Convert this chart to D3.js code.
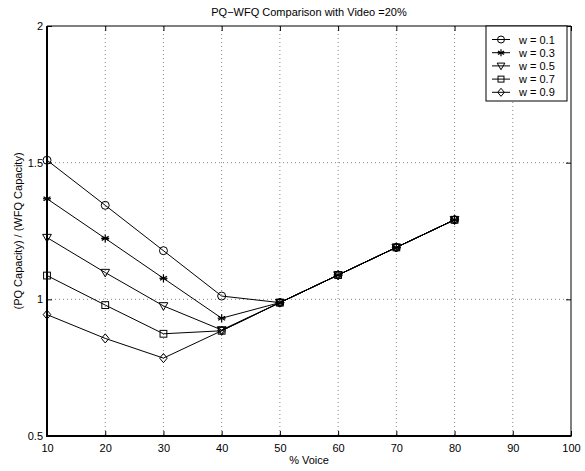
<!DOCTYPE html>
<html><head><meta charset="utf-8">
<script src="https://cdn.jsdelivr.net/npm/d3@7"></script>
<style>body{margin:0;background:#fff}svg{display:block}text{font-family:"Liberation Sans",Arial,sans-serif;fill:#000}</style>
</head><body><svg id="c" width="585" height="471"></svg>
<script>
const voice = [10, 20, 30, 40, 50, 60, 70, 80];
const seriesNames = ["w = 0.1", "w = 0.3", "w = 0.5", "w = 0.7", "w = 0.9"];
const w01 = [1.509, 1.344, 1.178, 1.012, 0.988, 1.089, 1.190, 1.291];
const w03 = [1.368, 1.223, 1.077, 0.931, 0.988, 1.089, 1.190, 1.291];
const w05 = [1.226, 1.098, 0.976, 0.888, 0.988, 1.089, 1.190, 1.291];
const w07 = [1.087, 0.979, 0.874, 0.885, 0.988, 1.089, 1.190, 1.291];
const w09 = [0.944, 0.857, 0.785, 0.885, 0.988, 1.089, 1.190, 1.291];
const seriesValues = [w01, w03, w05, w07, w09];
const markerTypes = ["circle", "asterisk", "triangle", "square", "diamond"];
const xTicks = [10, 20, 30, 40, 50, 60, 70, 80, 90, 100];
const yTicks = [0.5, 1, 1.5, 2];

const L = 47, R = 571, T = 26, B = 436;
const svg = d3.select("#c");
const x = d3.scaleLinear().domain([10, 100]).range([L, R]);
const y = d3.scaleLinear().domain([0.5, 2]).range([B, T]);

// grid
const g = svg.append("g");
g.selectAll(".gx").data(xTicks.slice(1, -1)).join("line")
  .attr("x1", d => x(d)).attr("x2", d => x(d)).attr("y1", T).attr("y2", B)
  .attr("stroke", "#888").attr("stroke-width", 1).attr("stroke-dasharray", "1,3");
g.selectAll(".gy").data(yTicks.slice(1, -1)).join("line")
  .attr("y1", d => y(d)).attr("y2", d => y(d)).attr("x1", L).attr("x2", R)
  .attr("stroke", "#888").attr("stroke-width", 1).attr("stroke-dasharray", "1,3");

// axes
const xb = svg.append("g").attr("transform", `translate(0,${B})`)
  .call(d3.axisBottom(x).tickValues(xTicks).tickSize(-5).tickPadding(8).tickFormat(d3.format("d")));
const xt = svg.append("g").attr("transform", `translate(0,${T})`)
  .call(d3.axisTop(x).tickValues(xTicks).tickSize(-5).tickFormat(""));
const yl = svg.append("g").attr("transform", `translate(${L},0)`)
  .call(d3.axisLeft(y).tickValues(yTicks).tickSize(-5).tickPadding(4).tickFormat(d => String(d)));
const yr = svg.append("g").attr("transform", `translate(${R},0)`)
  .call(d3.axisRight(y).tickValues(yTicks).tickSize(-5).tickFormat(""));
[xb, xt, yl, yr].forEach(a => {
  a.select(".domain").remove();
  a.selectAll("line").attr("stroke", "#000");
  a.selectAll("text").attr("font-size", 11).attr("font-family", "Liberation Sans, Arial, sans-serif").attr("fill", "#000");
});
svg.append("line").attr("x1", L).attr("x2", R).attr("y1", T).attr("y2", T).attr("stroke", "#000").attr("stroke-width", 1);
svg.append("line").attr("x1", R).attr("x2", R).attr("y1", T).attr("y2", B).attr("stroke", "#000").attr("stroke-width", 1);
svg.append("line").attr("x1", L).attr("x2", L).attr("y1", T).attr("y2", B + 1).attr("stroke", "#000").attr("stroke-width", 2);
svg.append("line").attr("x1", L - 1).attr("x2", R + 0.5).attr("y1", B).attr("y2", B).attr("stroke", "#000").attr("stroke-width", 2);

// marker drawing
function marker(sel, type, cx, cy, s) {
  s = s || 4;
  if (type === "circle") {
    sel.append("circle").attr("cx", cx).attr("cy", cy).attr("r", s).attr("fill", "none").attr("stroke", "#000");
  } else if (type === "asterisk") {
    const p = [[0, -s], [0, s], [-s*0.87, -s*0.5], [s*0.87, s*0.5], [-s*0.87, s*0.5], [s*0.87, -s*0.5], [-s, 0], [s, 0]];
    for (let i = 0; i < p.length; i += 2)
      sel.append("line").attr("x1", cx + p[i][0]).attr("y1", cy + p[i][1]).attr("x2", cx + p[i+1][0]).attr("y2", cy + p[i+1][1]).attr("stroke", "#000").attr("stroke-width", 1.2);
  } else if (type === "triangle") {
    sel.append("path").attr("d", `M${cx - s*1.1},${cy - s*0.8}L${cx + s*1.1},${cy - s*0.8}L${cx},${cy + s*1.1}Z`).attr("fill", "none").attr("stroke", "#000");
  } else if (type === "square") {
    sel.append("rect").attr("x", cx - s*0.85).attr("y", cy - s*0.85).attr("width", s*1.7).attr("height", s*1.7).attr("fill", "none").attr("stroke", "#000");
  } else if (type === "diamond") {
    sel.append("path").attr("d", `M${cx},${cy - s*1.15}L${cx + s*0.95},${cy}L${cx},${cy + s*1.15}L${cx - s*0.95},${cy}Z`).attr("fill", "none").attr("stroke", "#000");
  }
}

const line = d3.line().x((d, i) => x(voice[i])).y(d => y(d));
seriesValues.forEach((vals, k) => {
  const sg = svg.append("g");
  sg.append("path").datum(vals).attr("d", line).attr("fill", "none").attr("stroke", "#000").attr("stroke-width", 1);
  vals.forEach((v, i) => marker(sg, markerTypes[k], x(voice[i]), y(v)));
});

// title & labels
svg.append("text").attr("x", (L + R) / 2).attr("y", 16).attr("text-anchor", "middle").attr("font-size", 11).text("PQ\u2212WFQ Comparison with Video =20%");
svg.append("text").attr("x", (L + R) / 2).attr("y", 464).attr("text-anchor", "middle").attr("font-size", 11).text("% Voice");
svg.append("text").attr("transform", `translate(22,${(T + B) / 2}) rotate(-90)`).attr("text-anchor", "middle").attr("font-size", 11).text("(PQ Capacity) / (WFQ Capacity)");

// legend
const lg = svg.append("g");
lg.append("rect").attr("x", 486).attr("y", 26).attr("width", 81).attr("height", 75).attr("fill", "#fff").attr("stroke", "#000").attr("stroke-width", 1);
seriesNames.forEach((n, k) => {
  const ly = 39.5 + k * 13.2;
  lg.append("line").attr("x1", 492).attr("x2", 510).attr("y1", ly).attr("y2", ly).attr("stroke", "#000");
  marker(lg, markerTypes[k], 501, ly, 3.5);
  lg.append("text").attr("x", 519).attr("y", ly + 4).attr("font-size", 11).text(n);
});
</script></body></html>
